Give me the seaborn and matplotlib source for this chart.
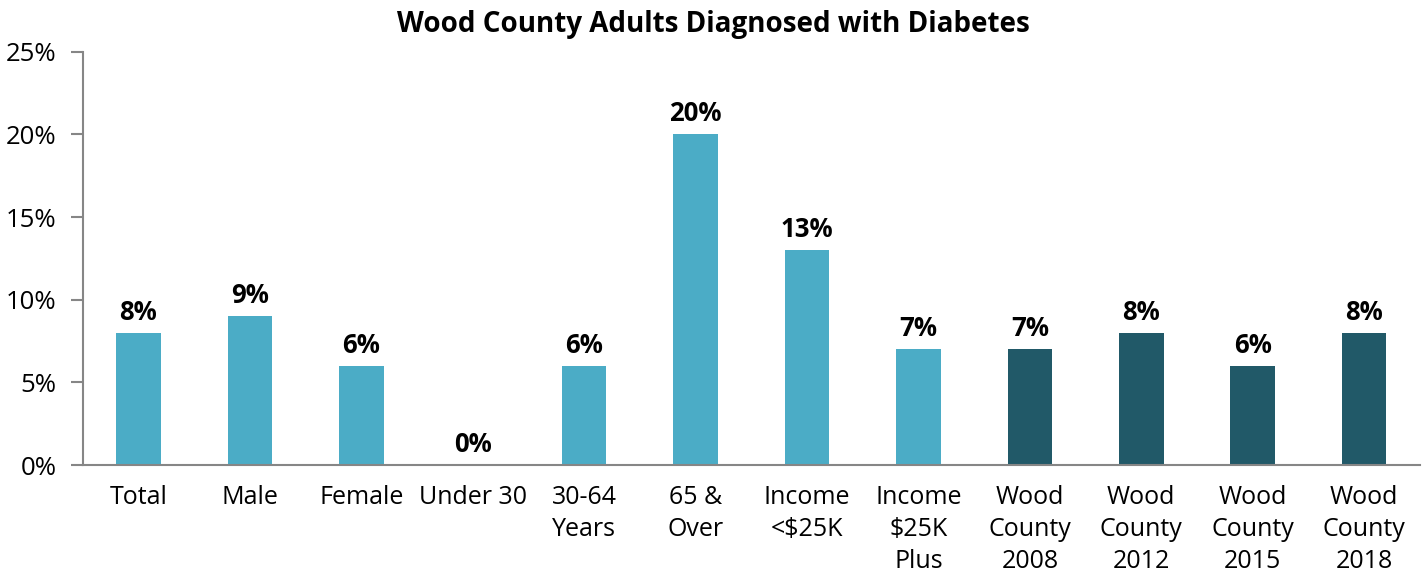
import matplotlib
matplotlib.use("Agg")
import matplotlib.pyplot as plt
import seaborn as sns
import numpy as np

categories = ["Total", "Male", "Female", "Under 30", "30-64\nYears", "65 &\nOver",
              "Income\n<$25K", "Income\n$25K\nPlus", "Wood\nCounty\n2008", "Wood\nCounty\n2012",
              "Wood\nCounty\n2015", "Wood\nCounty\n2018"]
values = [8, 9, 6, 0, 6, 20, 13, 7, 7, 8, 6, 8]
labels = ["8%", "9%", "6%", "0%", "6%", "20%", "13%", "7%", "7%", "8%", "6%", "8%"]
y_ticks = [0, 5, 10, 15, 20, 25]
y_tick_labels = ["0%", "5%", "10%", "15%", "20%", "25%"]

light = "#4BACC6"
dark = "#215968"
colors = [light] * 8 + [dark] * 4

sns.set_theme(style="white")
plt.rcParams['font.family'] = ['Open Sans', 'DejaVu Sans']
plt.rcParams['text.color'] = 'black'

fig = plt.figure(figsize=(14.27, 5.75), dpi=100)
ax = fig.add_axes([0.058, 0.191, 0.937, 0.719])

sns.barplot(x=categories, y=values, hue=categories, palette=colors, legend=False,
            width=0.4, saturation=1, linewidth=0, ax=ax)

for i, (v, lab) in enumerate(zip(values, labels)):
    ax.annotate(lab, (i, v), xytext=(0, 5), textcoords="offset points",
                ha="center", va="bottom", fontsize=18.5, fontweight="bold", color="black")

ax.set_ylim(0, 25)
ax.set_xlim(-0.5, len(categories) - 0.5)
ax.set_yticks(y_ticks)
ax.set_yticklabels(y_tick_labels, fontsize=18.5, color="black")
ax.set_xticks(range(len(categories)))
ax.set_xticklabels(categories, fontsize=18, color="black", linespacing=1.38)
ax.set_xticks(np.arange(-0.5, len(categories), 1.0), minor=True)
ax.tick_params(axis="x", which="major", length=0, pad=14)
ax.tick_params(axis="x", which="minor", length=8, width=1.5, color="#868686", direction="out")
ax.tick_params(axis="y", which="major", length=9, width=1.5, color="#868686", direction="out", left=True, pad=10)

for s in ["top", "right"]:
    ax.spines[s].set_visible(False)
for s in ["left", "bottom"]:
    ax.spines[s].set_color("#868686")
    ax.spines[s].set_linewidth(1.5)

ax.set_xlabel("")
ax.set_ylabel("")
fig.suptitle("Wood County Adults Diagnosed with Diabetes", x=0.5, y=0.983, va="top",
             fontsize=20, fontweight="bold", color="black")

fig.savefig("out.png", dpi=100)
